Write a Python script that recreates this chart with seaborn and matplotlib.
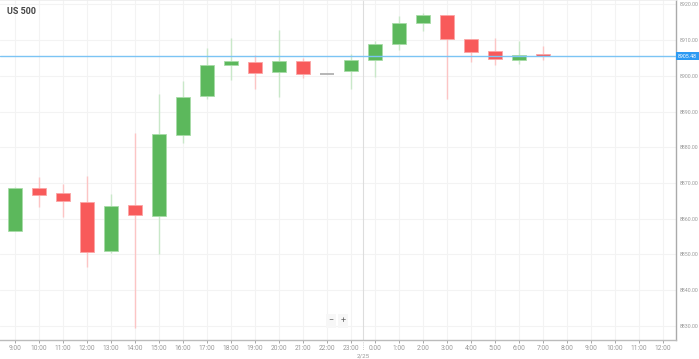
import numpy as np
import matplotlib
matplotlib.use("Agg")
import matplotlib.pyplot as plt
import seaborn as sns

# ==============================
# Data (hourly candles, US 500)
# ==============================
hours = ["9:00", "10:00", "11:00", "12:00", "13:00", "14:00", "15:00", "16:00",
         "17:00", "18:00", "19:00", "20:00", "21:00", "22:00", "23:00", "0:00",
         "1:00", "2:00", "3:00", "4:00", "5:00", "6:00", "7:00"]
opens = [8856.6, 8868.5, 8867.1, 8864.6, 8851.0, 8863.8, 8860.8, 8883.3,
         8894.4, 8903.1, 8904.0, 8901.1, 8904.2, 8900.6, 8901.4, 8904.5,
         8908.9, 8914.7, 8917.1, 8910.3, 8906.9, 8904.4, 8906.2]
closes = [8868.7, 8866.6, 8864.9, 8850.7, 8863.6, 8861.0, 8883.6, 8894.2,
          8903.0, 8904.3, 8900.9, 8904.3, 8900.4, 8900.6, 8904.5, 8908.9,
          8914.7, 8917.0, 8910.3, 8906.6, 8904.7, 8905.9, 8905.5]
highs = [8868.9, 8871.6, 8869.7, 8872.0, 8866.9, 8884.0, 8894.9, 8898.5,
         8907.7, 8910.7, 8905.9, 8912.9, 8905.1, 8900.6, 8906.1, 8909.9,
         8916.8, 8917.7, 8917.1, 8910.3, 8910.7, 8909.7, 8908.4]
lows = [8856.6, 8863.4, 8860.4, 8846.4, 8850.3, 8829.3, 8850.0, 8881.1,
        8893.5, 8898.9, 8896.3, 8894.2, 8899.5, 8900.6, 8896.3, 8899.8,
        8907.3, 8912.7, 8893.5, 8903.8, 8903.1, 8903.2, 8904.5]

tick_labels = hours + ["8:00", "9:00", "10:00", "11:00", "12:00"]
y_ticks = [8830, 8840, 8850, 8860, 8870, 8880, 8890, 8900, 8910, 8920]
current_price = 8905.48
title = "US 500"
day_label = "2/25"

# ==============================
# Plot
# ==============================
sns.set_theme(style="white")
plt.rcParams["font.family"] = ["Roboto", "DejaVu Sans"]

fig = plt.figure(figsize=(6.99, 3.59), dpi=100)
ax = fig.add_axes([0, 19 / 359, 676 / 699, 340 / 359])

x = np.arange(len(hours))
o = np.array(opens)
c = np.array(closes)
up = c > o
down = c < o
flat = c == o

green = "#5cb85c"
green_l = "#c9e8c9"
red = "#f85a5a"
red_l = "#fcc5c5"

# grid
for t in range(len(tick_labels)):
    ax.axvline(t, color="#f3f3f3", lw=0.8, zorder=0)
for yv in y_ticks:
    ax.axhline(yv, color="#f3f3f3", lw=0.8, zorder=0)

# day separator
ax.axvline(14.5, color="#dddddd", lw=0.8, zorder=0)

# wicks
wick_colors = [green_l if u else (red_l if d else "#bbbbbb") for u, d in zip(up, down)]
ax.vlines(x, lows, highs, colors=wick_colors, lw=1.0, zorder=1)

# bodies
w = 0.62
body_h = np.abs(c - o)
body_b = np.minimum(o, c)
ax.bar(x[up], body_h[up], bottom=body_b[up], width=w, color=green,
       edgecolor="#a8dca8", linewidth=0.6, zorder=2)
ax.bar(x[down], body_h[down], bottom=body_b[down], width=w, color=red,
       edgecolor="#fba5a5", linewidth=0.6, zorder=2)
ax.hlines(o[flat], x[flat] - w / 2, x[flat] + w / 2, colors="#aaaaaa", lw=1.2, zorder=2)

# current price
ax.axhline(current_price, color="#7cc4f4", lw=1.0, zorder=3)

ax.set_xlim(-0.625, 27.54)
ax.set_ylim(8826.0, 8921.26)

ax.set_xticks(np.arange(len(tick_labels)))
ax.set_xticklabels(tick_labels)
ax.set_yticks(y_ticks)
ax.set_yticklabels([f"{v:.2f}" for v in y_ticks])
ax.yaxis.tick_right()
ax.tick_params(axis="x", labelsize=4.8, colors="#999999", length=2, width=0.6,
               pad=1.5, bottom=True)
ax.tick_params(axis="y", labelsize=3.8, colors="#999999", length=2, width=0.6,
               pad=1.0, right=True, left=False)

sns.despine(ax=ax, left=True, top=False, right=False, bottom=False)
ax.spines["right"].set_color("#aaaaaa")
ax.spines["bottom"].set_color("#bbbbbb")
ax.spines["top"].set_color("#eeeeee")
for s in ["right", "bottom"]:
    ax.spines[s].set_linewidth(1.0)

# price tag on right axis
ax.text(1.003, current_price, f"{current_price:.2f}", transform=ax.get_yaxis_transform(),
        ha="left", va="center", fontsize=3.8, color="white",
        bbox=dict(boxstyle="square,pad=0.3", fc="#2b9af3", ec="none"), zorder=5)

# title
fig.text(7 / 699, 1 - 11.5 / 359, title, fontsize=6.5, fontweight="bold",
         color="#444444", ha="left", va="center")

# day label below axis
fig.text(363 / 699, 1 - 355.5 / 359, day_label, ha="center", va="center",
         fontsize=4.5, color="#999999")
ax.plot([14.5, 14.5], [-0.005, -0.03], transform=ax.get_xaxis_transform(),
        color="#bbbbbb", lw=0.6, ls=":", clip_on=False)

# zoom buttons
for bx, glyph in [(331, "−"), (343, "+")]:
    fig.text(bx / 699, 1 - 321 / 359, glyph, fontsize=6.5, color="#666666",
             ha="center", va="center",
             bbox=dict(boxstyle="square,pad=0.25", fc="#f7f7f7", ec="none"))

plt.savefig("out.png", dpi=100)
plt.close()
